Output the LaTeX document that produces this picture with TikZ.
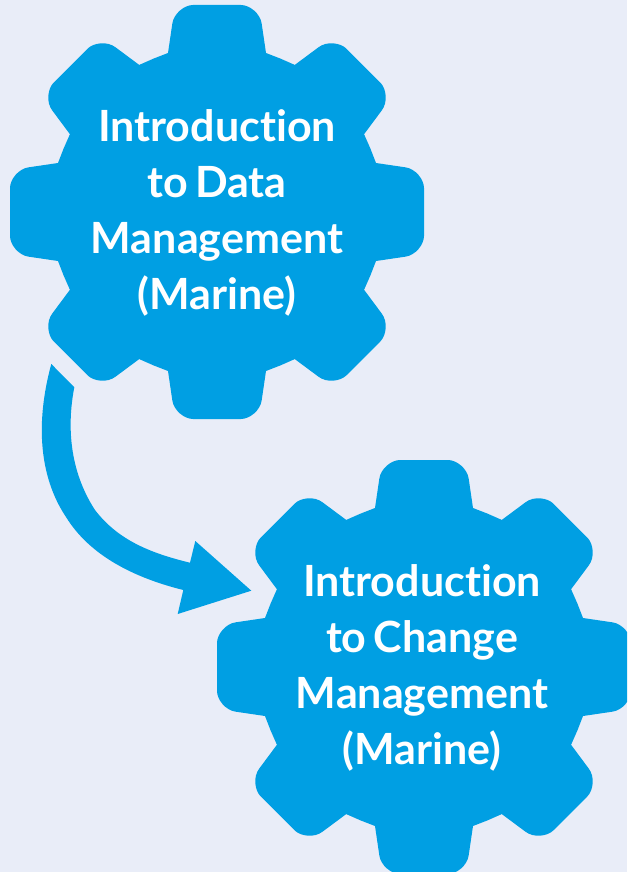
\documentclass[tikz,border=0pt]{standalone}
\usepackage{fontspec}
\setmainfont{Lato}[Ligatures=CommonOff,WordSpace=0.7]
\definecolor{gearblue}{HTML}{009FE3}
\definecolor{paper}{HTML}{E9EDF8}
\tikzset{
  geartext/.style={text=white,font=\fontsize{43}{56}\selectfont\bfseries,align=center,inner sep=0pt},
  gearfill/.style={fill=gearblue,draw=none}
}
\newcommand{\geardraw}[2]{%
  \fill[gearfill] ([shift={(#1,#2)}]-49,-159)
  \foreach \a in {0,-45,...,-315}{
    -- ([shift={(#1,#2)},rotate=\a]-49,-159)
    -- ([shift={(#1,#2)},rotate=\a]-44.7,-188.2)
    .. controls ([shift={(#1,#2)},rotate=\a]-43.4,-198.5) and ([shift={(#1,#2)},rotate=\a]-32.5,-207) .. ([shift={(#1,#2)},rotate=\a]-24,-207)
    -- ([shift={(#1,#2)},rotate=\a]24,-207)
    .. controls ([shift={(#1,#2)},rotate=\a]32.5,-207) and ([shift={(#1,#2)},rotate=\a]43.4,-198.5) .. ([shift={(#1,#2)},rotate=\a]44.7,-188.2)
    -- ([shift={(#1,#2)},rotate=\a]49,-159)
    -- ([shift={(#1,#2)},rotate=\a-22.5]0,-166)
  } -- cycle;
}
\begin{document}
\begin{tikzpicture}[x=1pt,y=-1pt]
\useasboundingbox (0,0) rectangle (627,872);
\fill[paper] (0,0) rectangle (627,872);
\begin{scope}
\clip (0,0) rectangle (627,872);
\geardraw{217}{212}
\geardraw{424}{667}
\end{scope}
\fill[gearfill] (51.3,364) -- (74.3,387.3)
  .. controls (67,425) and (69,470) .. (95,510)
  .. controls (118,540) and (150,553) .. (190,562.7)
  -- (195.3,541) -- (251.3,590.7) -- (177.7,614) -- (183.3,590)
  .. controls (135,578) and (90,556) .. (66,517)
  .. controls (38,475) and (36,420) .. (51.3,364) -- cycle;
\node[geartext] (a) at (217,213) {Introduction\\to Data\\Management\\(Marine)};
\node[geartext] (b) at (422,668) {Introduction\\to Change\\Management\\(Marine)};
\end{tikzpicture}
\end{document}
